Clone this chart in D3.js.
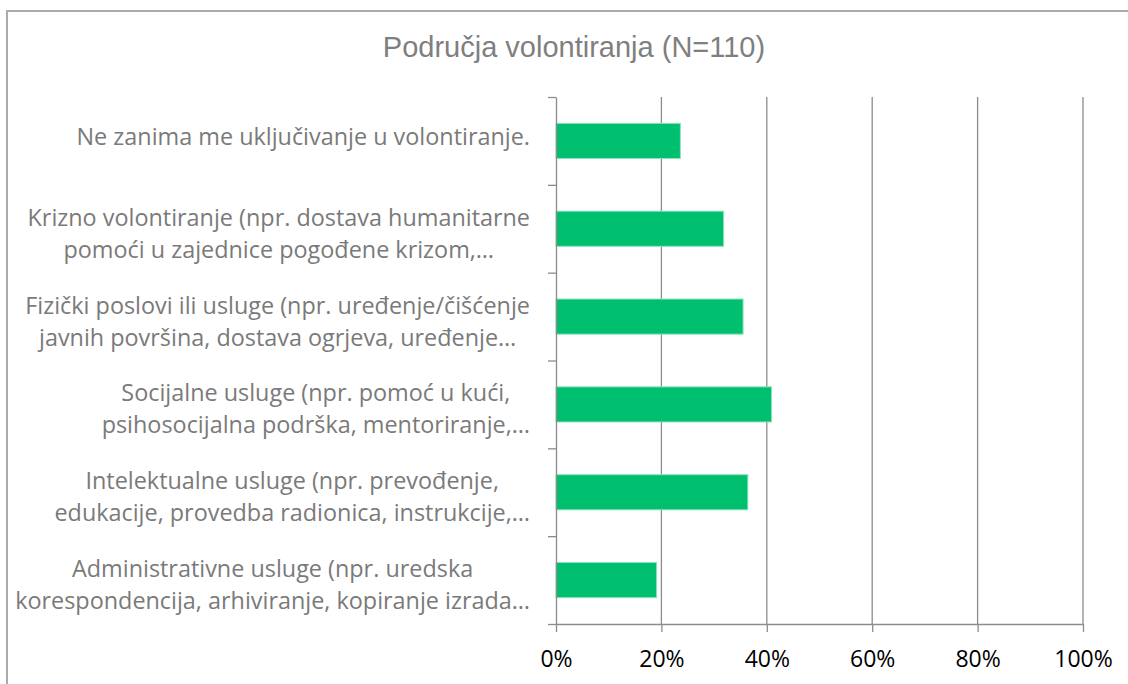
<!DOCTYPE html>
<html>
<head>
<meta charset="utf-8">
<script src="https://cdn.jsdelivr.net/npm/d3@7"></script>
<style>
  body { margin: 0; background: #fff; }
  svg { display: block; }
</style>
</head>
<body>
<div id="chart"></div>
<script>
// chart data
var categories = [
  ["Ne zanima me uključivanje u volontiranje."],
  ["Krizno volontiranje (npr. dostava humanitarne", "pomoći u zajednice pogođene krizom,…"],
  ["Fizički poslovi ili usluge (npr. uređenje/čišćenje", "javnih površina, dostava ogrjeva, uređenje…"],
  ["Socijalne usluge (npr. pomoć u kući,", "psihosocijalna podrška, mentoriranje,…"],
  ["Intelektualne usluge (npr. prevođenje,", "edukacije, provedba radionica, instrukcije,…"],
  ["Administrativne usluge (npr. uredska", "korespondencija, arhiviranje, kopiranje izrada…"]
];
var values = [0.236, 0.318, 0.355, 0.409, 0.364, 0.191];
var xTicks = [0, 0.2, 0.4, 0.6, 0.8, 1];
var title = "Područja volontiranja (N=110)";

var W = 1128, H = 684;
var margin = {top: 97, right: 45, bottom: 60, left: 556};
var width = W - margin.left - margin.right,
    height = H - margin.top - margin.bottom;

var svg = d3.select("#chart").append("svg")
    .attr("width", W)
    .attr("height", H);

// chart frame (runs off the right and bottom edges)
svg.append("rect")
  .attr("x", 7).attr("y", 11)
  .attr("width", W + 50).attr("height", H + 50)
  .attr("fill", "none")
  .attr("stroke", "#ababab")
  .attr("stroke-width", 2);

svg.append("text")
  .attr("x", 574)
  .attr("y", 57)
  .attr("text-anchor", "middle")
  .attr("font-family", "Liberation Sans, Arial, sans-serif")
  .attr("font-size", 29)
  .attr("fill", "#7f7f7f")
  .text(title);

var g = svg.append("g")
  .attr("transform", "translate(" + margin.left + "," + margin.top + ")");

var x = d3.scaleLinear().domain([0, 1]).range([0, width]);
var y = d3.scaleBand().domain(d3.range(categories.length)).range([0, height]).padding(0);
var yEdge = d3.scaleLinear().domain([0, categories.length]).range([0, height]);

// gridlines
g.selectAll(".grid")
  .data(xTicks.slice(1))
  .enter().append("line")
    .attr("x1", function(d) { return x(d); })
    .attr("x2", function(d) { return x(d); })
    .attr("y1", 0)
    .attr("y2", height)
    .attr("stroke", "#8c8c8c")
    .attr("stroke-width", 1.3);

// bars
var barH = y.bandwidth() * 0.4;
g.selectAll(".bar")
  .data(values)
  .enter().append("rect")
    .attr("x", x(0))
    .attr("y", function(d, i) { return y(i) + (y.bandwidth() - barH) / 2; })
    .attr("width", function(d) { return x(d) - x(0); })
    .attr("height", barH)
    .attr("fill", "#00bf6f")
    .attr("stroke", "#8ee3bd")
    .attr("stroke-width", 1);

// x axis
var xAxis = g.append("g")
  .attr("transform", "translate(0," + height + ")")
  .call(d3.axisBottom(x).tickValues(xTicks).tickFormat(d3.format(".0%"))
    .tickSize(8).tickSizeOuter(0).tickPadding(19));
xAxis.select(".domain").attr("stroke", "#8c8c8c").attr("stroke-width", 1.3);
xAxis.selectAll(".tick line").attr("stroke", "#8c8c8c").attr("stroke-width", 1.3);
xAxis.selectAll("text")
  .attr("font-family", "Open Sans, sans-serif")
  .attr("font-size", 23)
  .attr("fill", "#000");

// y axis: ticks sit between the categories
var yAxis = g.append("g")
  .call(d3.axisLeft(yEdge).ticks(categories.length).tickFormat("").tickSize(8).tickSizeOuter(0));
yAxis.select(".domain").attr("stroke", "#8c8c8c").attr("stroke-width", 1.3);
yAxis.selectAll(".tick line").attr("stroke", "#8c8c8c").attr("stroke-width", 1.3);

// category labels, centred lines, block right-aligned
var labelRight = -26, lineGap = 32;
var labels = g.selectAll(".label")
  .data(categories)
  .enter().append("text")
    .attr("font-family", "Open Sans, sans-serif")
    .attr("font-size", 23.4)
    .attr("fill", "#7a7a7a")
    .attr("text-anchor", "middle");

labels.each(function(lines, i) {
  var t = d3.select(this);
  var cy = y(i) + y.bandwidth() / 2;
  var base = lines.length === 1 ? cy + 4 : cy - 3;
  lines.forEach(function(line, k) {
    t.append("tspan").attr("y", base + k * lineGap).text(line);
  });
  var maxW = d3.max(t.selectAll("tspan").nodes(), function(n) { return n.getComputedTextLength(); });
  t.selectAll("tspan").attr("x", labelRight - maxW / 2);
});
</script>
</body>
</html>
